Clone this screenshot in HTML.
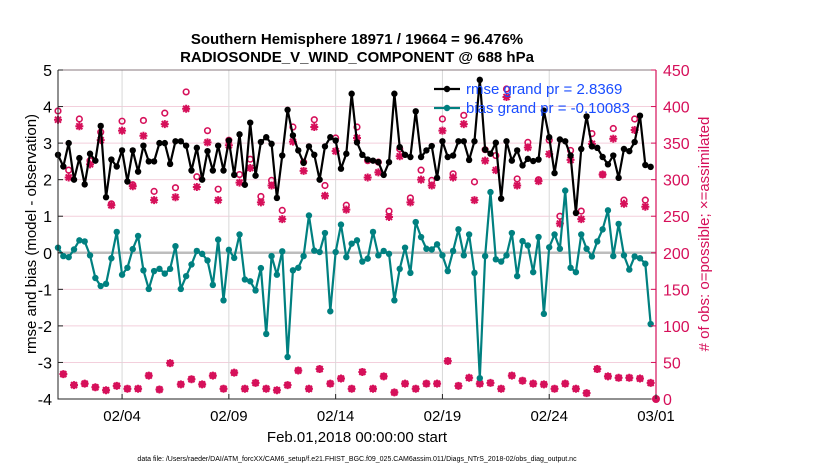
<!DOCTYPE html>
<html><head><meta charset="utf-8"><style>
body{margin:0;background:#fff;}
svg{display:block;font-family:"Liberation Sans",sans-serif;}
</style></head><body>
<svg id="chart" width="830" height="470" xmlns="http://www.w3.org/2000/svg">
<text x="357" y="44" text-anchor="middle" font-size="15" font-weight="bold">Southern Hemisphere 18971 / 19664 = 96.476%</text>
<text x="357" y="62" text-anchor="middle" font-size="15" font-weight="bold">RADIOSONDE_V_WIND_COMPONENT @ 688 hPa</text>
<text transform="translate(36,234) rotate(-90)" text-anchor="middle" font-size="15">rmse and bias (model - observation)</text>
<text transform="translate(709,234) rotate(-90)" text-anchor="middle" font-size="15" fill="#d6105a"># of obs: o=possible; ×=assimilated</text>
<text x="357" y="442" text-anchor="middle" font-size="15">Feb.01,2018 00:00:00 start</text>
<text x="357" y="461" text-anchor="middle" font-size="7">data file: /Users/raeder/DAI/ATM_forcXX/CAM6_setup/f.e21.FHIST_BGC.f09_025.CAM6assim.011/Diags_NTrS_2018-02/obs_diag_output.nc</text>
<g id="plot"></g>
</svg>
<script>
const xTickLabels=["02/04","02/09","02/14","02/19","02/24","03/01"];
const xTickDays=[3,8,13,18,23,28];
const leftTicks=[-4,-3,-2,-1,0,1,2,3,4,5];
const rightTicks=[0,50,100,150,200,250,300,350,400,450];
const rmse=[2.68,2.36,3.0,2.0,2.59,1.87,2.71,2.52,3.47,1.52,
2.55,2.36,2.8,1.95,2.8,2.22,2.93,2.5,2.5,3.0,
3.0,2.43,3.05,3.05,2.93,2.25,2.87,2.0,2.78,2.25,
2.93,2.25,3.07,2.13,3.24,1.86,3.56,2.11,3.03,3.16,
2.98,1.5,2.66,3.91,3.21,2.8,2.46,2.91,2.68,2.0,
2.91,3.16,3.07,2.3,2.71,4.35,3.02,2.68,2.55,2.52,
2.48,2.13,2.48,4.35,2.89,2.68,2.62,3.87,2.62,2.8,
2.92,2.05,3.05,2.62,2.66,3.05,3.05,2.54,3.05,4.73,
2.82,2.71,3.01,1.48,3.05,2.52,2.8,2.39,2.57,2.51,
2.55,3.89,3.16,2.18,3.10,3.05,2.66,1.09,2.84,3.73,
2.91,2.87,2.62,2.42,2.66,2.05,2.84,2.78,3.03,3.75,
2.4,2.35];
const bias=[0.14,-0.09,-0.12,0.09,0.34,0.31,-0.07,-0.69,-0.91,-0.85,
-0.15,0.57,-0.60,-0.41,0.1,0.46,-0.48,-0.99,-0.50,-0.44,
-0.57,-0.44,0.18,-0.99,-0.64,-0.32,0.05,-0.03,-0.21,-0.88,
0.36,-1.30,0.08,-0.14,0.5,-0.73,-0.78,-1.03,-0.42,-2.22,
-0.09,-0.60,0.04,-2.85,-0.48,-0.41,-0.09,1.02,0.06,0.02,
0.54,-1.6,0.02,0.77,-0.12,0.25,0.34,-0.24,-0.16,0.57,
-0.07,0.05,-0.03,-1.30,-0.44,0.14,-0.55,0.84,0.43,0.11,
0.09,0.23,-0.07,-0.50,0.05,0.64,-0.07,0.5,-0.55,-3.43,
-0.09,1.66,-0.18,-0.24,-0.07,0.54,-0.64,0.32,0.2,-0.53,
0.43,-1.67,0.15,0.5,0.11,1.70,-0.41,-0.53,0.5,0.11,
-0.1,0.31,0.64,1.16,-0.09,0.79,-0.07,-0.46,-0.1,-0.15,
-0.3,-1.95];
const evenPossible=[394,313,383,326,365,267,380,293,381,284,391,289,420,304,367,287,354,307,328,277,299,258,372,324,382,292,357,265,
372,326,324,257,342,275,313,299,383,308,388,297,341,333,424,301,351,300,354,250,340,257,363,307,370,272,383,272];
const evenAssim=[382,303,373,321,354,265,367,291,360,272,376,276,397,290,351,272,347,296,316,269,292,246,352,312,372,278,339,259,
357,303,310,249,332,269,300,292,367,303,376,272,326,313,413,292,344,298,335,240,327,246,349,307,356,267,368,263];
const oddCount=[34,19,21,16,12,18,14,14,32,13,49,20,27,20,32,14,36,14,22,14,12,19,39,14,41,21,28,
14,37,14,31,9,21,14,21,21,52,18,29,21,22,14,32,25,21,20,14,21,14,8,41,31,29,29,28,22];
const finalCount=[0];

const L=58,R=656,T=70,B=399,NS="http://www.w3.org/2000/svg";
const xS=d=>L+(d/28)*(R-L);
const yL=v=>B-(v+4)/9*(B-T);
const yR=c=>B-c/450*(B-T);
const g=document.getElementById('plot');
function mk(tag,attrs,parent){const e=document.createElementNS(NS,tag);for(const k in attrs)e.setAttribute(k,attrs[k]);(parent||g).appendChild(e);return e;}

rightTicks.forEach(c=>{const l=mk('line',{x1:L,x2:R,y1:yR(c),y2:yR(c),stroke:'#f3cfdc','stroke-width':1});

});
xTickDays.forEach(d=>{const l=mk('line',{x1:xS(d),x2:xS(d),y1:T,y2:B,stroke:'#d8d8d8','stroke-width':1});

});
const z=mk('line',{x1:L,x2:R,y1:yL(0),y2:yL(0),stroke:'#bdbdbd','stroke-width':2.5});



function star(x,y,name){const s=mk('path',{d:`M${x-4},${y}H${x+4}M${x},${y-4}V${y+4}M${x-3},${y-3}L${x+3},${y+3}M${x-3},${y+3}L${x+3},${y-3}`,stroke:'#d6105a','stroke-width':2,fill:'none'});

}
function circ(x,y,name){const c=mk('circle',{cx:x,cy:y,r:2.8,fill:'none',stroke:'#d6105a','stroke-width':1.6});

}
evenPossible.forEach((c,i)=>circ(xS(i*0.5),yR(c),'obs-possible'));
evenAssim.forEach((c,i)=>star(xS(i*0.5),yR(c),'obs-assimilated'));
oddCount.forEach((c,i)=>{circ(xS(i*0.5+0.25),yR(c),'obs-possible');star(xS(i*0.5+0.25),yR(c),'obs-assimilated');});
finalCount.forEach(c=>{const d=mk('circle',{cx:xS(28),cy:yR(c),r:4,fill:'#d6105a'});

});

function series(vals,color,name){
 const p=mk('polyline',{points:vals.map((v,i)=>xS(i*0.25)+','+yL(v)).join(' '),fill:'none',stroke:color,'stroke-width':2.2,'stroke-linejoin':'round'});
 
 
 vals.forEach((v,i)=>{const c=mk('circle',{cx:xS(i*0.25),cy:yL(v),r:3.2,fill:color});
 
 });
}
series(bias,'#008080','bias');
series(rmse,'#000000','rmse');

const ax=mk('path',{d:`M${L},${T}V${B}H${R}`,stroke:'#222',fill:'none','stroke-width':1});


const ra=mk('line',{x1:R,x2:R,y1:T,y2:B,stroke:'#d6105a','stroke-width':1.2});


const ta=mk('line',{x1:L,x2:R,y1:T,y2:T,stroke:'#222','stroke-width':0.6});



leftTicks.forEach(v=>{mk('line',{x1:L,x2:L+5,y1:yL(v),y2:yL(v),stroke:'#222'});
 const t=mk('text',{x:L-6,y:yL(v)+6,'text-anchor':'end','font-size':16});t.textContent=v;
 
 });
rightTicks.forEach(c=>{mk('line',{x1:R-5,x2:R,y1:yR(c),y2:yR(c),stroke:'#d6105a'});
 const t=mk('text',{x:R+7,y:yR(c)+6,'font-size':16,fill:'#d6105a'});t.textContent=c;
 
 });
xTickDays.forEach((d,i)=>{mk('line',{x1:xS(d),x2:xS(d),y1:B-5,y2:B,stroke:'#222'});
 const t=mk('text',{x:xS(d),y:B+22,'text-anchor':'middle','font-size':15});t.textContent=xTickLabels[i];
 
 });

const legend=[["rmse grand pr = 2.8369",'#000'],["bias grand pr = -0.10083",'#008080']];
legend.forEach((e,i)=>{const y=89+i*19;
 mk('line',{x1:434,x2:460,y1:y,y2:y,stroke:e[1],'stroke-width':2.2});
 mk('circle',{cx:447,cy:y,r:3.2,fill:e[1]});
 const t=mk('text',{x:466,y:y+5,'font-size':15,fill:'#1a4dff'});t.textContent=e[0];
 
 });
</script>
</body></html>
